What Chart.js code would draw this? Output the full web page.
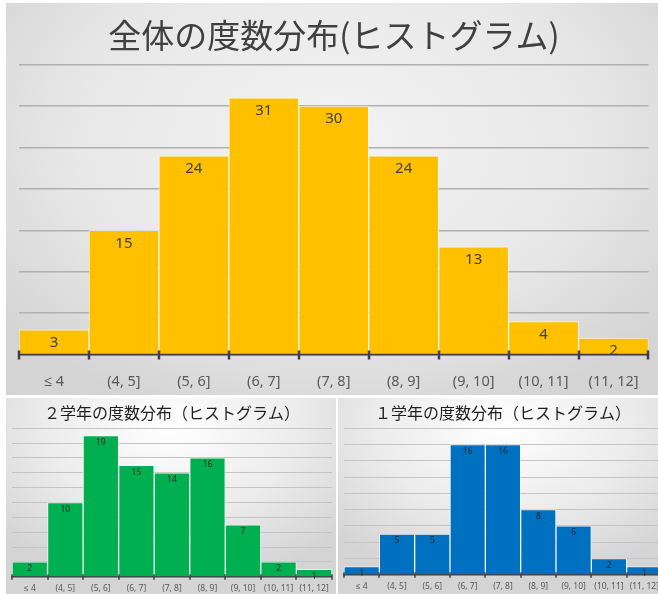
<!DOCTYPE html>
<html lang="ja">
<head>
<meta charset="utf-8">
<script src="https://cdn.jsdelivr.net/npm/chart.js@4/dist/chart.umd.min.js"></script>
<style>
  html, body { margin: 0; padding: 0; background: #fff; overflow: hidden; }
  body { width: 658px; height: 594px; position: relative; }
  .box { position: absolute; }
  #boxTotal { left: 6px; top: 3px; width: 652px; height: 392px;
    background: radial-gradient(ellipse 65% 75% at 50% 35%, #f3f3f3 0%, #e8e8e8 60%, #d4d4d4 100%); }
  #boxG2 { left: 6px; top: 398px; width: 330px; height: 196px;
    background: radial-gradient(ellipse 70% 80% at 50% 15%, #ffffff 0%, #ececec 55%, #d4d4d4 100%); }
  #boxG1 { left: 338px; top: 398px; width: 330px; height: 196px;
    background: radial-gradient(ellipse 70% 80% at 50% 15%, #ffffff 0%, #ececec 55%, #d4d4d4 100%); }
</style>
</head>
<body>
<div class="box" id="boxTotal"><canvas id="chartTotal"></canvas></div>
<div class="box" id="boxG2"><canvas id="chartG2"></canvas></div>
<div class="box" id="boxG1"><canvas id="chartG1"></canvas></div>
<script>
'use strict';

// 階級
const categories = ['≤ 4', '(4, 5]', '(5, 6]', '(6, 7]', '(7, 8]', '(8, 9]', '(9, 10]', '(10, 11]', '(11, 12]'];

// 度数
const totalCounts = [3, 15, 24, 31, 30, 24, 13, 4, 2];
const grade2Counts = [2, 10, 19, 15, 14, 16, 7, 2, 1];
const grade1Counts = [1, 5, 5, 16, 16, 8, 6, 2, 1];

// 縦軸の目盛り (max, step)
const totalTicks = [35, 5];
const grade2Ticks = [20, 2];
const grade1Ticks = [18, 2];

const latinFont = "'Noto Sans', 'Open Sans', sans-serif";
const jpFont = "'Noto Sans CJK JP', 'Noto Sans', sans-serif";

// data labels inside the top of each bar
const barLabels = {
  id: 'barLabels',
  afterDatasetsDraw(chart, args, opts) {
    const ctx = chart.ctx;
    const meta = chart.getDatasetMeta(0);
    const values = chart.data.datasets[0].data;
    ctx.save();
    ctx.font = opts.size + 'px ' + latinFont;
    ctx.fillStyle = opts.color;
    ctx.textAlign = 'center';
    ctx.textBaseline = 'middle';
    meta.data.forEach(function(bar, i){
      ctx.fillText(String(values[i]), bar.x, bar.y + opts.offset);
    });
    ctx.restore();
  }
};

// cross tick marks on the category boundaries
const crossTicks = {
  id: 'crossTicks',
  afterDraw(chart, args, opts) {
    const x = chart.scales.x;
    const y = chart.scales.y.getPixelForValue(0);
    const ctx = chart.ctx;
    ctx.save();
    ctx.strokeStyle = '#404040';
    ctx.lineWidth = opts.width;
    ctx.beginPath();
    for (let i = 0; i <= categories.length; i++){
      const px = Math.round(x.getPixelForValue(i - 0.5));
      ctx.moveTo(px, y - opts.up);
      ctx.lineTo(px, y + opts.down);
    }
    ctx.stroke();
    ctx.restore();
  }
};

const makeChart = function(id, title, values, ticks, cfg){
  const ctx = document.getElementById(id).getContext('2d');
  return new Chart(ctx, {
    type: 'bar',
    data: {
      labels: categories,
      datasets: [{
        data: values,
        backgroundColor: cfg.color,
        borderColor: 'rgba(255,255,255,0.6)',
        borderWidth: 1,
        borderSkipped: 'bottom',
        categoryPercentage: 1,
        barPercentage: 1
      }]
    },
    options: {
      responsive: true,
      maintainAspectRatio: false,
      animation: false,
      events: [],
      layout: { padding: cfg.padding },
      plugins: {
        legend: { display: false },
        tooltip: { enabled: false },
        title: {
          display: true,
          text: title,
          color: cfg.titleColor,
          font: { family: jpFont, size: cfg.titleSize, weight: 'normal' },
          padding: cfg.titlePadding
        },
        barLabels: { size: cfg.labelSize, color: cfg.labelColor, offset: cfg.labelOffset },
        crossTicks: cfg.ticks
      },
      scales: {
        x: {
          grid: { display: true, drawOnChartArea: false, drawTicks: false },
          border: { display: true, color: '#404040', width: cfg.axisWidth },
          ticks: {
            color: '#595959',
            padding: cfg.tickPadding,
            maxRotation: 0,
            autoSkip: false,
            font: { family: latinFont, size: cfg.tickSize }
          }
        },
        y: {
          min: 0,
          max: ticks[0],
          ticks: { display: false, stepSize: ticks[1] },
          grid: { color: cfg.gridColor, lineWidth: cfg.gridWidth, drawTicks: false },
          border: { display: false }
        }
      }
    },
    plugins: [barLabels, crossTicks]
  });
};

makeChart('chartTotal', '全体の度数分布(ヒストグラム)', totalCounts, totalTicks, {
  color: '#FFC000',
  padding: { left: 13, right: 9, top: 0, bottom: -15 },
  titleColor: '#404040', titleSize: 33, titlePadding: { top: 13, bottom: 9 },
  labelSize: 15, labelColor: '#404040', labelOffset: 13,
  ticks: { width: 2.5, up: 4, down: 5 },
  axisWidth: 2.5, tickPadding: 19, tickSize: 14.5,
  gridColor: '#b0b0b0', gridWidth: 1.5
});

makeChart('chartG2', '２学年の度数分布（ヒストグラム）', grade2Counts, grade2Ticks, {
  color: '#00B050',
  padding: { left: 6, right: 4, top: 0, bottom: -7 },
  titleColor: '#1f1f1f', titleSize: 16, titlePadding: { top: 5, bottom: 6 },
  labelSize: 8.5, labelColor: '#262626', labelOffset: 7,
  ticks: { width: 1.5, up: 2.5, down: 3 },
  axisWidth: 1.5, tickPadding: 7, tickSize: 8.5,
  gridColor: '#c4c4c4', gridWidth: 1
});

makeChart('chartG1', '１学年の度数分布（ヒストグラム）', grade1Counts, grade1Ticks, {
  color: '#0070C0',
  padding: { left: 6, right: 6, top: 0, bottom: -5 },
  titleColor: '#1f1f1f', titleSize: 16, titlePadding: { top: 5, bottom: 6 },
  labelSize: 8.5, labelColor: '#262626', labelOffset: 7,
  ticks: { width: 1.5, up: 2.5, down: 3 },
  axisWidth: 1.5, tickPadding: 7, tickSize: 8.5,
  gridColor: '#c4c4c4', gridWidth: 1
});
</script>
</body>
</html>
